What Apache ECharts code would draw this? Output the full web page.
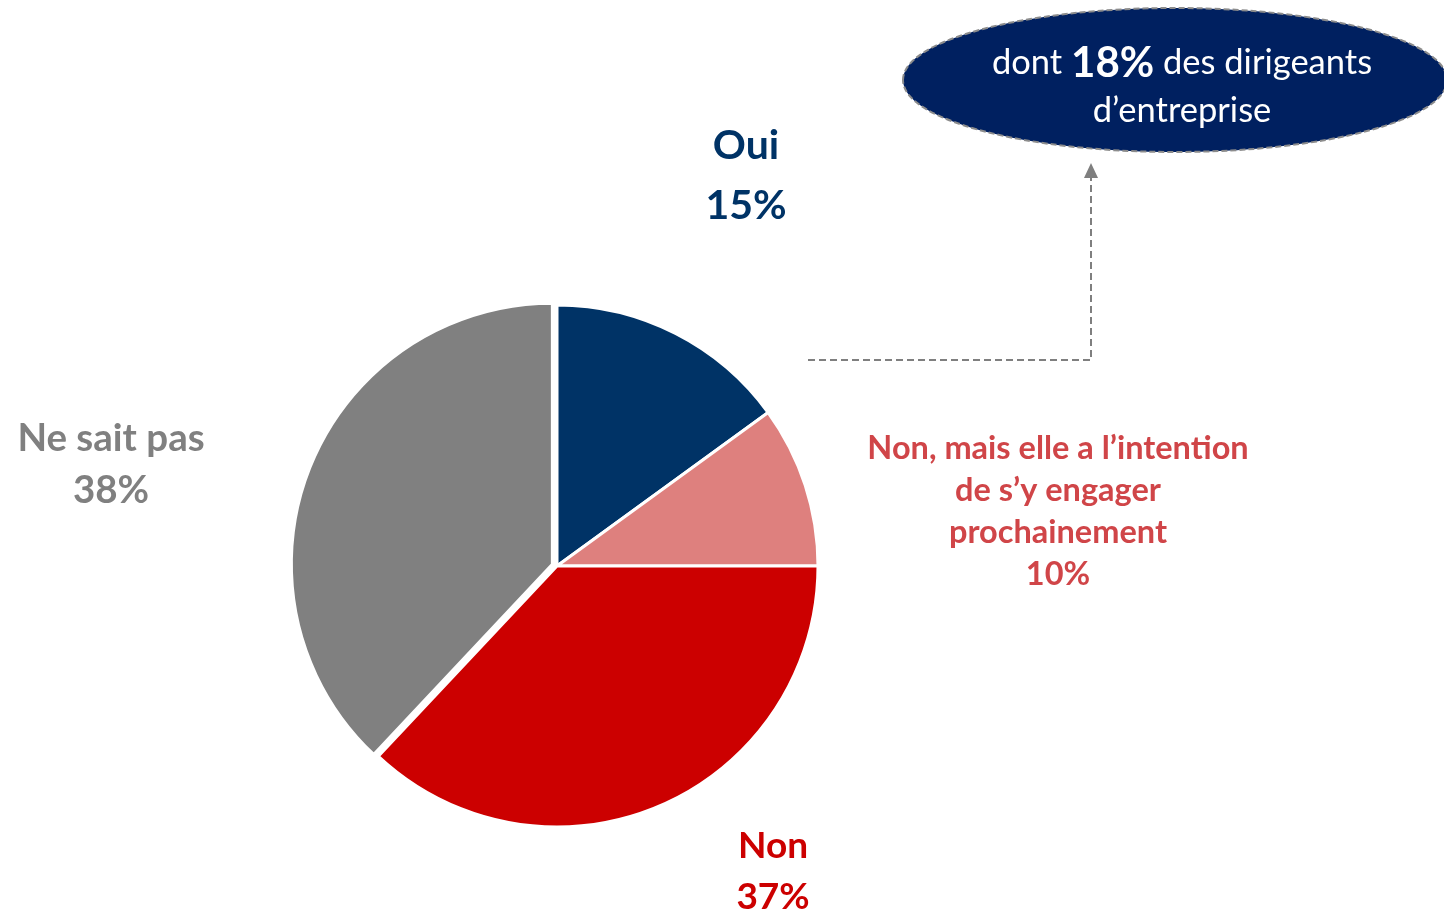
<!DOCTYPE html>
<html>
<head>
<meta charset="utf-8">
<script src="https://cdn.jsdelivr.net/npm/echarts@6/dist/echarts.min.js"></script>
<style>
  html, body { margin: 0; padding: 0; background: #fff; }
  #chart { width: 1444px; height: 914px; }
</style>
</head>
<body>
<div id="chart"></div>
<script>
  // données
  const categories = ['Oui', 'Non, mais elle a l’intention\nde s’y engager\nprochainement', 'Non', 'Ne sait pas'];
  const values = [15, 10, 37, 38];
  const sliceColors = ['#003366', '#DE807E', '#CC0000', '#808080'];
  const labelColors = ['#003366', '#D04548', '#CC0000', '#808080'];
  const calloutLines = ['dont ', '18%', ' des dirigeants', 'd’entreprise'];

  const FONT = 'Lato, "Noto Sans", sans-serif';

  // position des étiquettes (centre du bloc de texte)
  const labelPos = [
    { x: 746, y: 176, size: 41, lh: 60 },
    { x: 1058, y: 512, size: 32.5, lh: 42 },
    { x: 773, y: 872, size: 37, lh: 51 },
    { x: 111, y: 465, size: 38.5, lh: 52 },
  ];

  const chart = echarts.init(document.getElementById('chart'));

  const data = categories.map((name, i) => ({
    name: name,
    value: values[i],
    selected: i === 3, // "Ne sait pas" légèrement détaché
    itemStyle: { color: sliceColors[i] },
  }));

  // étiquettes : nom + pourcentage, placées à la main autour du camembert
  const total = values.reduce((a, b) => a + b, 0);
  const labels = categories.map((name, i) => ({
    type: 'text',
    x: labelPos[i].x,
    y: labelPos[i].y,
    z: 10,
    style: {
      text: name + '\n' + Math.round(values[i] / total * 100) + '%',
      align: 'center',
      verticalAlign: 'middle',
      fill: labelColors[i],
      fontFamily: FONT,
      fontWeight: 'bold',
      fontSize: labelPos[i].size,
      lineHeight: labelPos[i].lh,
    },
  }));

  const option = {
    backgroundColor: '#ffffff',
    animation: false,
    series: [
      {
        type: 'pie',
        center: [557, 566],
        radius: [0, 261],
        startAngle: 90,
        clockwise: true,
        selectedMode: 'multiple',
        selectedOffset: 5,
        silent: true,
        itemStyle: { borderColor: '#ffffff', borderWidth: 3 },
        label: { show: false },
        labelLine: { show: false },
        data: data,
      },
    ],
    graphic: [
      ...labels,
      {
        type: 'polyline',
        shape: { points: [[808, 360], [1091, 360], [1091, 176]] },
        style: { stroke: '#7f7f7f', lineWidth: 2, lineDash: [7, 4], fill: null },
      },
      {
        type: 'polygon',
        shape: { points: [[1084, 178], [1098, 178], [1091, 163]] },
        style: { fill: '#7f7f7f' },
      },
      {
        type: 'ellipse',
        shape: { cx: 1175, cy: 80, rx: 272, ry: 72 },
        style: { fill: '#002060', stroke: '#8c8c8c', lineWidth: 2, lineDash: [6, 3] },
      },
      {
        type: 'text',
        x: 1182,
        y: 87,
        style: {
          text: '{r|' + calloutLines[0] + '}{b|' + calloutLines[1] + '}{r|' + calloutLines[2] + '}\n{r|' + calloutLines[3] + '}',
          align: 'center',
          verticalAlign: 'middle',
          fill: '#ffffff',
          rich: {
            r: { fontFamily: FONT, fontSize: 34.5, color: '#ffffff', lineHeight: 48 },
            b: { fontFamily: FONT, fontSize: 42, fontWeight: 'bold', color: '#ffffff', lineHeight: 48 },
          },
        },
      },
    ],
  };

  chart.setOption(option);
</script>
</body>
</html>
